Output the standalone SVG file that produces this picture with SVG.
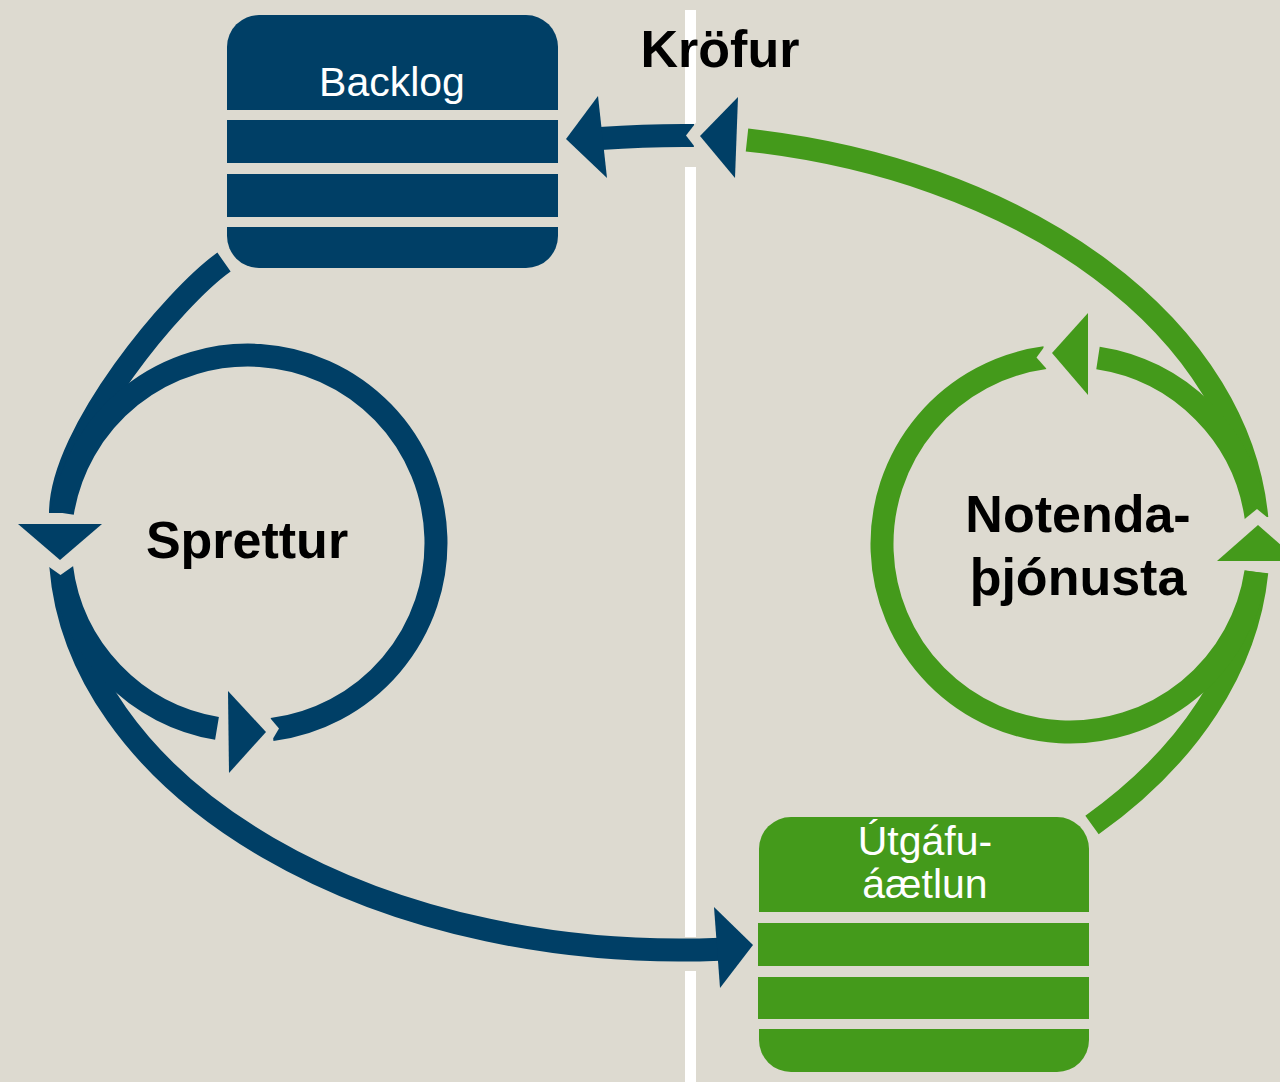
<svg xmlns="http://www.w3.org/2000/svg" width="1280" height="1082" viewBox="0 0 1280 1082">
<style>
.bg{fill:#DDDAD0}
.b{fill:#003F66}
.g{fill:#449A1B}
.bs{fill:none;stroke:#003F66;stroke-width:23;stroke-linecap:butt}
.gs{fill:none;stroke:#449A1B;stroke-width:23;stroke-linecap:butt}
.cut{fill:#DDDAD0}
.sep{fill:#FFFFFF}
.box-t{font-family:"Liberation Sans",Arial,sans-serif;font-size:41px;fill:#FFFFFF;text-anchor:middle}
.lbl{font-family:"Liberation Sans",Arial,sans-serif;font-size:52px;font-weight:bold;fill:#000000;text-anchor:middle}
</style>
<rect class="bg" x="0" y="0" width="1280" height="1082"/>

<g id="separator">
  <rect class="sep" x="685" y="10" width="11" height="114"/>
  <rect class="sep" x="685" y="167" width="11" height="770"/>
  <rect class="sep" x="685" y="971" width="11" height="111"/>
</g>

<g id="connectors">
  <!-- blue big loop -->
  <path class="bs" d="M 60.5 513 C 60.5 433 175 296.6 224 262"/>
  <path class="bs" d="M 60.8 566 A 620 405 0 0 0 720 949.2"/>
  <!-- blue sprint circle -->
  <path class="bs" d="M 61.4 566 A 188 188 0 0 0 217 728.4"/>
  <path class="bs" d="M 272 729.5 A 188 188 0 1 0 62.4 513"/>
  <!-- blue shaft to Backlog -->
  <path class="bs" d="M 694 135.5 Q 650 135 600 138.5"/>
  <!-- green big loop -->
  <path class="gs" d="M 1256.8 518 A 608 409 0 0 0 747 140"/>
  <path class="gs" d="M 1256.8 572 A 608 409 0 0 1 1092 825"/>
  <!-- green circle -->
  <path class="gs" d="M 1098 358 A 188 188 0 0 1 1256.2 518"/>
  <path class="gs" d="M 1045 357.7 A 188 188 0 1 0 1255.9 572"/>
  <!-- notch cuts -->
  <polygon class="cut" points="42,562 60.5,575 79,562"/>
  <polygon class="cut" points="265,712 279,728.6 268,747"/>
  <polygon class="cut" points="698,120 686,135.5 698,151"/>
  <polygon class="cut" points="1241,522 1257,509 1273,522"/>
  <polygon class="cut" points="1050,339 1036.5,357.5 1052,375"/>
  <!-- arrowheads -->
  <polygon class="b" points="566,139 598,96 607,178"/>
  <polygon class="b" points="700,136 738,97 735,178"/>
  <polygon class="b" points="18,524 102,524 60,560"/>
  <polygon class="b" points="266,732 228,691 229,773"/>
  <polygon class="b" points="753,945 714,907 720,988"/>
  <polygon class="g" points="1258,525 1217,561 1299,561"/>
  <polygon class="g" points="1052,353 1088,313 1088,395"/>
</g>

<g id="backlog">
  <path class="b" d="M 259 15 H 526 A 32 32 0 0 1 558 47 V 110 H 227 V 47 A 32 32 0 0 1 259 15 Z"/>
  <rect class="b" x="227" y="120" width="331" height="43"/>
  <rect class="b" x="227" y="174" width="331" height="43"/>
  <path class="b" d="M 227 227 H 558 V 236 A 32 32 0 0 1 526 268 H 259 A 32 32 0 0 1 227 236 Z"/>
  <text class="box-t" x="392" y="96">Backlog</text>
</g>

<g id="utgafuaaetlun">
  <path class="g" d="M 791 817 H 1057 A 32 32 0 0 1 1089 849 V 912 H 759 V 849 A 32 32 0 0 1 791 817 Z"/>
  <rect class="g" x="758" y="923" width="331" height="43"/>
  <rect class="g" x="758" y="977" width="331" height="42"/>
  <path class="g" d="M 759 1029 H 1089 V 1040 A 32 32 0 0 1 1057 1072 H 791 A 32 32 0 0 1 759 1040 Z"/>
  <text class="box-t" x="925" y="855">Útgáfu-</text>
  <text class="box-t" x="925" y="898">áætlun</text>
</g>

<g id="sprettur">
  <text class="lbl" x="247" y="558">Sprettur</text>
</g>

<g id="notendathjonusta">
  <text class="lbl" x="1078" y="532">Notenda-</text>
  <text class="lbl" x="1078" y="595">þjónusta</text>
</g>

<g id="krofur">
  <text class="lbl" x="720" y="67">Kröfur</text>
</g>
</svg>
